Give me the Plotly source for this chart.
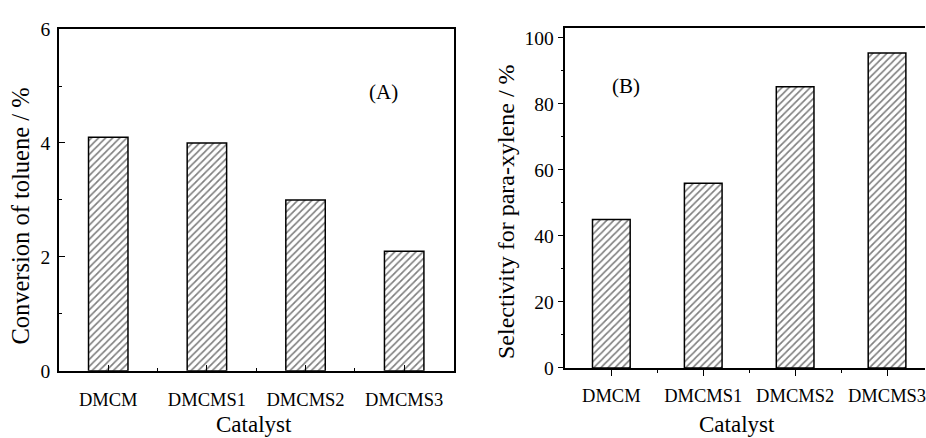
import plotly.graph_objects as go

categories = ["DMCM", "DMCMS1", "DMCMS2", "DMCMS3"]
conversion = [4.1, 4.0, 3.0, 2.1]
selectivity = [45.0, 56.0, 85.2, 95.4]
yticks_a = [0, 2, 4, 6]
yticks_b = [0, 20, 40, 60, 80, 100]
xpos = list(range(len(categories)))

FONT = "Liberation Serif, Times New Roman, serif"

bar_marker = dict(
    color="white",
    line=dict(color="black", width=1.5),
    pattern=dict(shape="/", fgcolor="black", bgcolor="white", size=5, solidity=0.33),
)

fig = go.Figure()
fig.add_trace(go.Bar(x=xpos, y=conversion, width=0.4, marker=bar_marker,
                     xaxis="x", yaxis="y", showlegend=False))
fig.add_trace(go.Bar(x=xpos, y=selectivity, width=0.41, marker=bar_marker,
                     xaxis="x2", yaxis="y2", showlegend=False))

W, H = 926, 438
axcommon = dict(showline=True, linecolor="black", linewidth=1.5, showgrid=False,
                zeroline=False, tickcolor="black", tickwidth=1.2,
                ticklabeloverflow="allow")
xfont = dict(family=FONT, size=18.5, color="black")
yfont = dict(family=FONT, size=19.5, color="black")

fig.update_layout(
    width=W, height=H,
    margin=dict(l=0, r=0, t=0, b=0),
    plot_bgcolor="white", paper_bgcolor="white",
    xaxis=dict(domain=[59 / W, 454 / W], anchor="y", range=[-0.5, 3.5],
               tickvals=xpos, ticktext=categories, ticks="inside", ticklen=6,
               mirror=True, tickfont=xfont, ticklabelstandoff=11,
               minor=dict(tickvals=[0.5, 1.5, 2.5], ticks="inside", ticklen=3,
                          tickcolor="black", tickwidth=1.2),
               **axcommon),
    yaxis=dict(domain=[(H - 379) / H, (H - 20) / H], anchor="x", range=[0, 6],
               tickvals=yticks_a, ticks="inside", ticklen=6, mirror=True,
               tickfont=yfont, ticklabelstandoff=3,
               minor=dict(dtick=1, ticks="inside", ticklen=3,
                          tickcolor="black", tickwidth=1.2),
               **axcommon),
    xaxis2=dict(domain=[566 / W, 1.0], anchor="y2", range=[-0.5, (926 - 612) / 92],
                tickvals=xpos, ticktext=categories, ticks="outside", ticklen=6,
                mirror=True, tickfont=xfont, ticklabelstandoff=4,
                minor=dict(tickvals=[0.5, 1.5, 2.5], ticks="outside", ticklen=3,
                           tickcolor="black", tickwidth=1.2),
                **axcommon),
    yaxis2=dict(domain=[(H - 376) / H, (H - 19.3) / H], anchor="x2", range=[0, 102.9],
                tickvals=yticks_b, ticks="outside", ticklen=6, mirror=False,
                tickfont=yfont, ticklabelstandoff=0,
                minor=dict(dtick=10, ticks="outside", ticklen=3,
                           tickcolor="black", tickwidth=1.2),
                **axcommon),
    annotations=[
        dict(text="(A)", x=2.79, y=4.9, xref="x", yref="y", showarrow=False,
             xanchor="center", yanchor="middle",
             font=dict(family=FONT, size=21, color="black")),
        dict(text="(B)", x=0.16, y=85.4, xref="x2", yref="y2", showarrow=False,
             xanchor="center", yanchor="middle",
             font=dict(family=FONT, size=21, color="black")),
        dict(text="Catalyst", x=254 / W, y=(H - 435) / H, xref="paper", yref="paper",
             xanchor="center", yanchor="middle",
             showarrow=False, font=dict(family=FONT, size=23, color="black")),
        dict(text="Catalyst", x=737.5 / W, y=(H - 435) / H, xref="paper", yref="paper",
             xanchor="center", yanchor="middle",
             showarrow=False, font=dict(family=FONT, size=23, color="black")),
        dict(text="Conversion of toluene / %", x=21 / W, y=(H - 216) / H,
             xref="paper", yref="paper", showarrow=False, textangle=-90,
             xanchor="center", yanchor="middle",
             font=dict(family=FONT, size=24.5, color="black")),
        dict(text="Selectivity for para-xylene / %", x=506.7 / W, y=(H - 212) / H,
             xref="paper", yref="paper", showarrow=False, textangle=-90,
             xanchor="center", yanchor="middle",
             font=dict(family=FONT, size=24, color="black")),
    ],
)

fig.write_html("out.html")
